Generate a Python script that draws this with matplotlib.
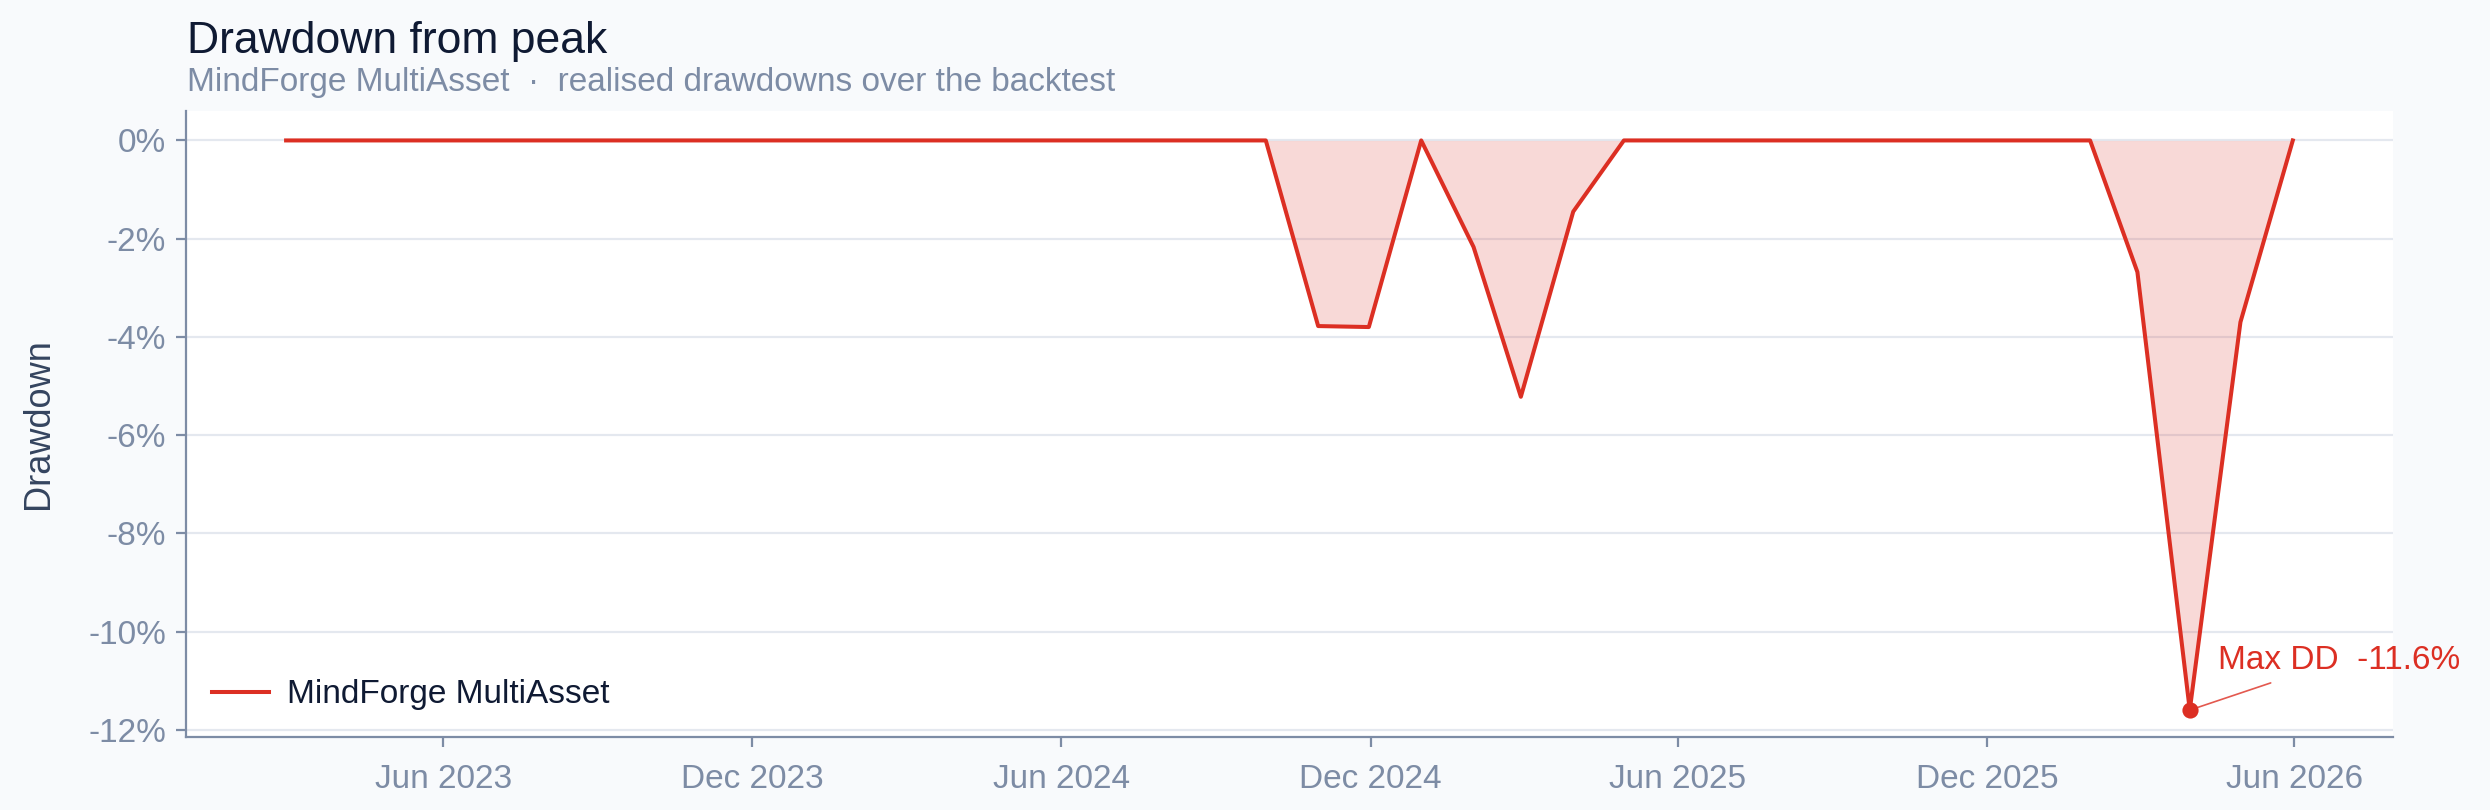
import matplotlib
matplotlib.use("Agg")
import matplotlib.pyplot as plt
import matplotlib.dates as mdates
import matplotlib.ticker as mticker
import pandas as pd
import numpy as np

# ---- data ----
dates = pd.date_range("2023-02-28", "2026-05-31", freq="ME")
drawdown = [
    0, 0, 0, 0, 0, 0, 0, 0, 0, 0, 0,          # Feb 2023 - Dec 2023
    0, 0, 0, 0, 0, 0, 0, 0, 0,                # Jan 2024 - Sep 2024
    -3.78, -3.80, 0,                          # Oct - Dec 2024
    -2.17, -5.22, -1.45, 0, 0, 0, 0, 0, 0, 0, 0, 0,  # Jan - Dec 2025
    0, -2.68, -11.6, -3.7, 0,                 # Jan - May 2026
]
series_name = "MindForge MultiAsset"
title = "Drawdown from peak"
subtitle = "MindForge MultiAsset  \u00b7  realised drawdowns over the backtest"
y_ticks = [0, -2, -4, -6, -8, -10, -12]

RED = "#dc2f23"
BG = "#f8fafc"
SLATE = "#7d8ca5"
NAVY = "#0f1a33"
LABEL = "#34445f"
GRID = "#e4e8ef"

plt.rcParams["font.family"] = ["Liberation Sans", "DejaVu Sans"]

fig = plt.figure(figsize=(12.45, 4.05), dpi=200, facecolor=BG)
ax = fig.add_axes([0.0746, 0.090, 0.8865, 0.773])
ax.set_facecolor("white")

dd = np.array(drawdown, dtype=float)
ax.fill_between(dates, dd, 0, color=RED, alpha=0.18, linewidth=0, zorder=2)
ax.plot(dates, dd, color=RED, lw=1.45, label=series_name, zorder=3)

imin = int(np.argmin(dd))
ax.scatter([dates[imin]], [dd[imin]], s=34, color=RED, zorder=4, linewidths=0)
ax.annotate(f"Max DD  {dd[imin]:.1f}%", xy=(dates[imin], dd[imin]),
            xytext=(10, 18), textcoords="offset points",
            color=RED, fontsize=12, va="center", ha="left",
            arrowprops=dict(arrowstyle="-", color=RED, lw=0.6, alpha=0.8))

ax.set_ylim(-12.15, 0.6)
ax.margins(x=0.05)
ax.set_yticks(y_ticks)
ax.yaxis.set_major_formatter(mticker.FuncFormatter(lambda v, p: f"{v:.0f}%"))
ax.xaxis.set_major_locator(mdates.MonthLocator(bymonth=[6, 12]))
ax.xaxis.set_major_formatter(mdates.DateFormatter("%b %Y"))

ax.grid(axis="y", color=GRID, lw=0.8, zorder=0)
ax.grid(axis="x", visible=False)
ax.set_axisbelow(True)
for s in ["top", "right"]:
    ax.spines[s].set_visible(False)
for s in ["left", "bottom"]:
    ax.spines[s].set_color(SLATE)
    ax.spines[s].set_linewidth(0.8)
ax.tick_params(axis="both", colors=SLATE, labelsize=12, length=3.6, width=0.8)
ax.tick_params(axis="x", pad=6)

ax.set_ylabel("Drawdown", fontsize=13, color=LABEL)
ax.yaxis.set_label_coords(-0.059, 0.5)

leg = ax.legend(loc="lower left", frameon=False, fontsize=12,
                handlelength=1.7, handletextpad=0.55, borderaxespad=0.4)
for t in leg.get_texts():
    t.set_color(NAVY)

fig.text(0.0752, 0.935, title, fontsize=16, color=NAVY, ha="left", va="baseline")
fig.text(0.0752, 0.888, subtitle, fontsize=12, color=SLATE, ha="left", va="baseline")

fig.savefig("out.png", dpi=200, facecolor=BG)
